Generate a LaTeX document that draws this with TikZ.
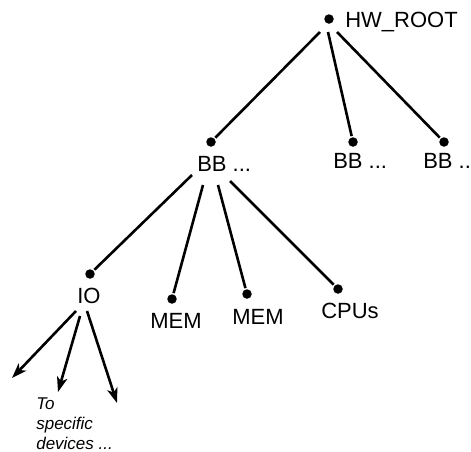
\documentclass[tikz,border=0pt]{standalone}
\usepackage{fontspec}
\setmainfont{Liberation Sans}
\usetikzlibrary{arrows.meta}

\begin{document}
\begin{tikzpicture}[x=1pt, y=-1pt, line width=2.6pt,
    >={Stealth[length=15pt,width=10.5pt,inset=4pt]},
    every node/.style={font=\fontsize{22}{26}\selectfont, inner sep=0pt, anchor=base west},
    dot/.style={circle, fill, minimum size=9.5pt, anchor=center}]
  \useasboundingbox (0,0) rectangle (471,451);
  % tree dots
  \node[dot] (root) at (329,19) {};
  \node[dot] (bb1) at (211,142) {};
  \node[dot] (bb2) at (353,142) {};
  \node[dot] (bb3) at (444,142) {};
  \node[dot] (io) at (90,274) {};
  \node[dot] (mem1) at (172,299) {};
  \node[dot] (mem2) at (247,294) {};
  \node[dot] (cpus) at (338,289) {};
  % labels
  \node (rootlbl) at (344,27) {HW\_ROOT};
  \node (bb1lbl) at (196,171) {BB ...};
  \node (bb2lbl) at (332,168) {BB ...};
  \node (bb3lbl) at (422,168) {BB ..};
  \node (iolbl) at (76,303) {IO};
  \node (mem1lbl) at (149,328) {MEM};
  \node (mem2lbl) at (231,324) {MEM};
  \node (cpuslbl) at (320,318) {CPUs};
  \node[font=\fontsize{17}{20}\selectfont\itshape, align=left, anchor=north west]
    (devtxt) at (35,396.5) {To\\specific\\devices ...};
  % root to the BBs
  \draw ([shift={(-9,13)}]root.center) -- (bb1);
  \draw ([shift={(-1,13)}]root.center) -- (bb2);
  \draw ([shift={(8,13)}]root.center) -- (bb3);
  % BB to its parts
  \draw ([shift={(-4,4)}]bb1lbl.base west) -- (io);
  \draw ([shift={(7,14)}]bb1lbl.base west) -- (mem1);
  \draw ([shift={(22,14)}]bb1lbl.base west) -- (mem2);
  \draw ([shift={(34,10)}]bb1lbl.base west) -- (cpus);
  % IO to the devices
  \coordinate (dev1) at (12,378);
  \coordinate (dev2) at (58,392);
  \coordinate (dev3) at (117,403);
  \draw[->] ([shift={(0,8)}]iolbl.base west) -- (dev1);
  \draw[->] ([shift={(4,13)}]iolbl.base west) -- (dev2);
  \draw[->] ([shift={(11,8)}]iolbl.base west) -- (dev3);
\end{tikzpicture}
\end{document}
